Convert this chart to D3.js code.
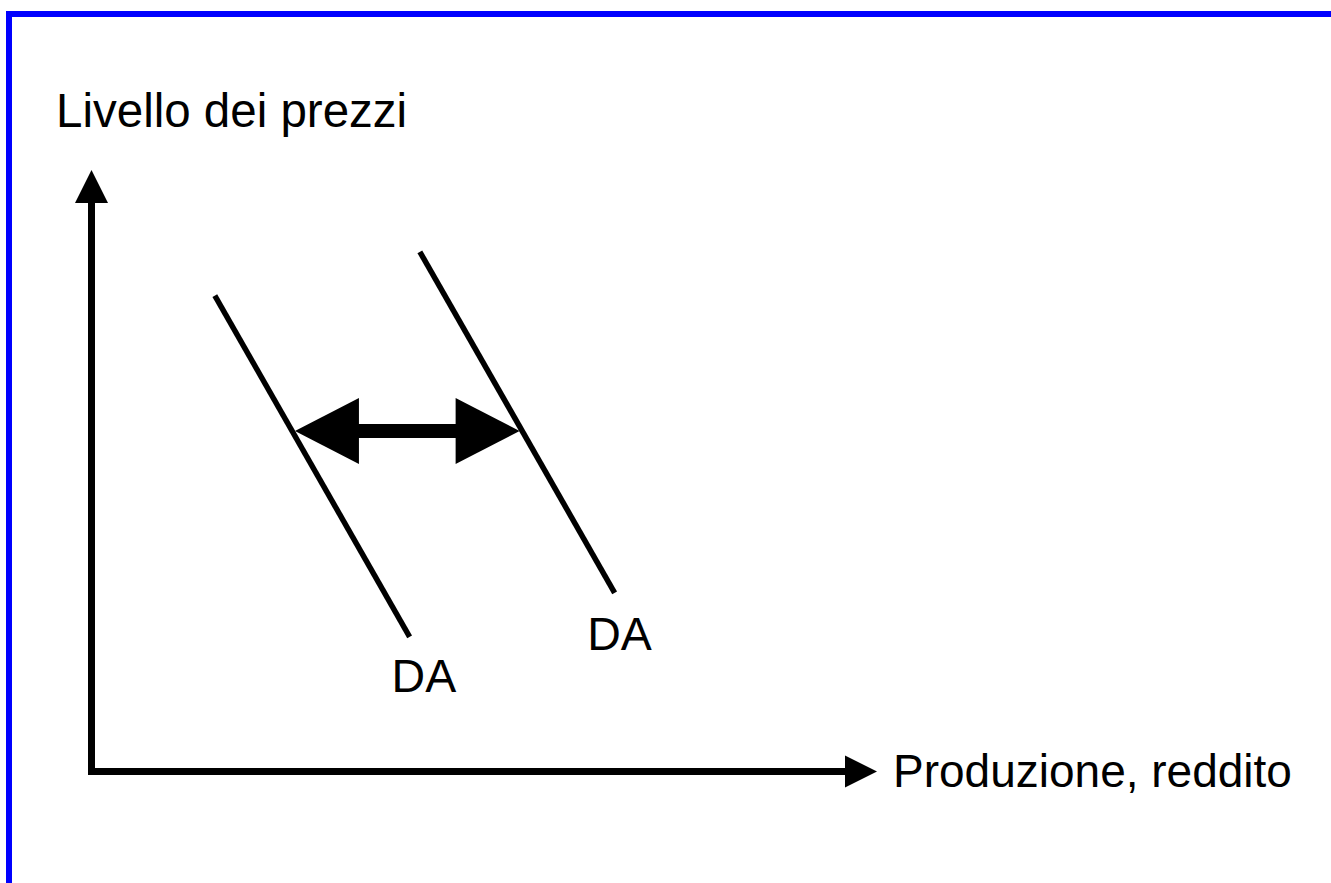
<!DOCTYPE html>
<html>
<head>
<meta charset="utf-8">
<script src="https://cdn.jsdelivr.net/npm/d3@7"></script>
<style>
  html, body { margin:0; padding:0; background:#fff; overflow:hidden; }
  svg { display:block; font-family:"Liberation Sans", Arial, sans-serif; }
</style>
</head>
<body>
<svg id="chart"></svg>
<script>
// axis titles
var yTitle = "Livello dei prezzi";
var xTitle = "Produzione, reddito";

// the two demand curves (output, price)
var curveNames = ["DA", "DA"];
var curveStart = [[15.7, 79.1], [41.8, 86.4]];
var curveEnd = [[40.5, 22.4], [66.6, 29.7]];
var curveLabelAt = [[38.2, 13.2], [63.1, 20.2]];

// horizontal shift between the curves
var shiftFrom = [25.9, 56.6];
var shiftTo = [54.5, 56.6];

var screen = {width:1331, height:883};

var svg = d3.select("#chart")
    .attr("width", screen.width)
    .attr("height", screen.height);

// blue frame, only top and left visible
svg.append("rect")
    .attr("x", 9)
    .attr("y", 14)
    .attr("width", 1500)
    .attr("height", 1000)
    .attr("fill", "none")
    .attr("stroke", "#0000ff")
    .attr("stroke-width", 6);

var x = d3.scaleLinear().domain([0, 100]).range([91.5, 877]);
var y = d3.scaleLinear().domain([0, 100]).range([771.5, 170]);

var head = 32; // arrowhead length

// axes
svg.append("path")
    .attr("d", "M" + x(0) + "," + (y(100) + head) + "L" + x(0) + "," + y(0) + "L" + (x(100) - head) + "," + y(0))
    .attr("fill", "none")
    .attr("stroke", "#000")
    .attr("stroke-width", 7)
    .attr("stroke-linejoin", "miter");

svg.append("polygon")
    .attr("points", [[x(0), y(100)], [x(0) - 16.5, y(100) + head + 1], [x(0) + 16.5, y(100) + head + 1]].join(" "))
    .attr("fill", "#000");

svg.append("polygon")
    .attr("points", [[x(100), y(0)], [x(100) - head, y(0) - 16], [x(100) - head, y(0) + 16]].join(" "))
    .attr("fill", "#000");

svg.append("text")
    .attr("x", 56)
    .attr("y", 127)
    .attr("font-size", 47.5)
    .text(yTitle);

svg.append("text")
    .attr("x", 893)
    .attr("y", 787)
    .attr("font-size", 46)
    .text(xTitle);

// demand curves
svg.selectAll("line.curve")
    .data(d3.range(curveNames.length))
    .enter()
    .append("line")
    .classed("curve", true)
    .attr("x1", function(i) { return x(curveStart[i][0]); })
    .attr("y1", function(i) { return y(curveStart[i][1]); })
    .attr("x2", function(i) { return x(curveEnd[i][0]); })
    .attr("y2", function(i) { return y(curveEnd[i][1]); })
    .attr("stroke", "#000")
    .attr("stroke-width", 5.5);

svg.selectAll("text.curve")
    .data(d3.range(curveNames.length))
    .enter()
    .append("text")
    .classed("curve", true)
    .attr("x", function(i) { return x(curveLabelAt[i][0]); })
    .attr("y", function(i) { return y(curveLabelAt[i][1]); })
    .attr("font-size", 46.5)
    .text(function(i) { return curveNames[i]; });

// double arrow for the shift
var ax1 = x(shiftFrom[0]), ax2 = x(shiftTo[0]), ay = y(shiftFrom[1]);
var hl = 64, hw = 33;

svg.append("line")
    .attr("x1", ax1 + hl - 2)
    .attr("x2", ax2 - hl + 2)
    .attr("y1", ay)
    .attr("y2", ay)
    .attr("stroke", "#000")
    .attr("stroke-width", 14);

svg.append("polygon")
    .attr("points", [[ax1, ay], [ax1 + hl, ay - hw], [ax1 + hl, ay + hw]].join(" "))
    .attr("fill", "#000");

svg.append("polygon")
    .attr("points", [[ax2, ay], [ax2 - hl, ay - hw], [ax2 - hl, ay + hw]].join(" "))
    .attr("fill", "#000");
</script>
</body>
</html>
